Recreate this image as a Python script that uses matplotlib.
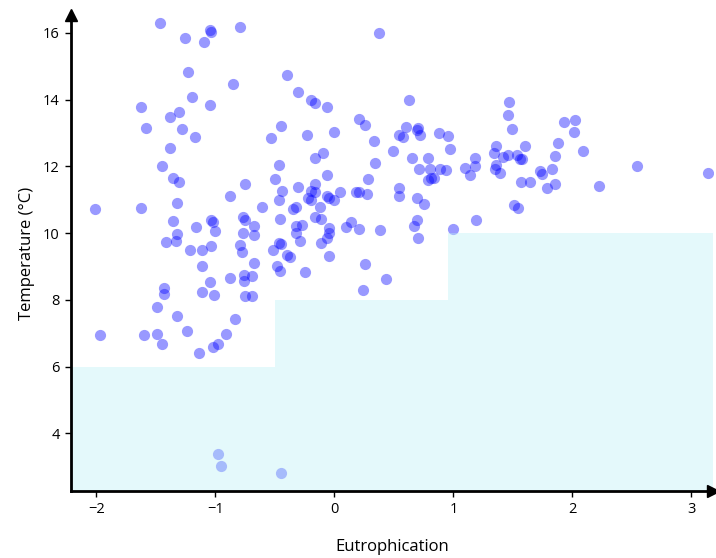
import numpy as np
import matplotlib.pyplot as plt

plt.rcParams['font.family'] = ['Open Sans', 'DejaVu Sans']

# eutrophication (x) and temperature (y)
eutro = [
    -1.47, -1.05, -1.04, -0.79, -1.26, -1.10, -1.23, -0.85, -1.63, -1.20,
    -1.05, -1.31, -1.38, -1.58, -1.28, -1.17, -1.38, -1.45, -1.36, -1.31,
    -0.75, -0.88, -1.32, -2.01, -1.63, -1.36, -1.04, -1.02, -1.16, -1.00,
    -0.77, -0.75, -1.32, -1.33, -1.42, -1.21, -1.11, -1.04, -0.79, -0.78,
    -0.77, -1.11, -1.43, -1.43, -1.05, -0.88, -0.76, -0.76, -1.11, -1.01,
    -0.75, -1.49, -1.32, -0.84, -1.97, -1.60, -1.49, -1.45, -1.24, -0.91,
    -0.98, -1.02, -1.14,
    0.37, -0.40, -0.31, -0.20, -0.16, -0.06, 0.21, 0.26, -0.45, -0.53,
    -0.23, 0.00, 0.33, 0.54, 0.58, 0.49, -0.10, -0.16, 0.34, -0.47,
    -0.06, -0.50, 0.28, -0.44, -0.31, -0.16, -0.20, -0.16, 0.05, 0.18,
    0.21, 0.27, 0.54, 0.54, -0.47, -0.22, -0.20, -0.06, -0.05, 0.00,
    -0.61, -0.35, -0.32, -0.12, -0.68, -0.46, -0.16, -0.11, -0.32, -0.27,
    -0.05, -0.05, 0.14, 0.10, 0.21, 0.38, -0.68, -0.32, -0.29, -0.06,
    -0.11, -0.47, -0.45, -0.52, -0.40, -0.37, -0.05, -0.68, -0.48, -0.46,
    -0.25, 0.26, 0.43, -0.69, -0.69, 0.24,
    0.63, 1.47, 1.46, 1.93, 2.02, 2.01, 1.49, 0.60, 0.69, 0.70,
    0.72, 0.88, 0.95, 0.97, 0.65, 0.79, 0.71, 0.80, 0.89, 0.94,
    0.79, 0.81, 0.84, 1.10, 1.14, 1.18, 1.18, 1.36, 1.34, 1.42,
    1.46, 1.53, 1.58, 1.56, 1.60, 1.36, 1.35, 1.39, 1.57, 1.64,
    1.73, 1.74, 1.83, 1.79, 1.85, 1.85, 1.88, 2.09, 2.22, 2.54,
    3.14, 0.69, 0.75, 0.69, 0.67, 0.70, 1.00, 1.19, 1.51, 1.54,
    -0.98, -0.95, -0.45,
]
temp = [
    16.29, 16.08, 16.03, 16.17, 15.84, 15.72, 14.82, 14.46, 13.78, 14.07,
    13.84, 13.63, 13.48, 13.15, 13.12, 12.88, 12.55, 12.01, 11.65, 11.53,
    11.47, 11.11, 10.90, 10.72, 10.75, 10.36, 10.39, 10.33, 10.18, 10.06,
    10.48, 10.39, 9.97, 9.76, 9.73, 9.49, 9.49, 9.61, 9.64, 9.43,
    10.00, 9.01, 8.36, 8.18, 8.54, 8.66, 8.75, 8.57, 8.24, 8.15,
    8.12, 7.79, 7.52, 7.43, 6.95, 6.95, 6.98, 6.68, 7.07, 6.98,
    6.68, 6.59, 6.41,
    15.99, 14.73, 14.22, 13.99, 13.90, 13.78, 13.42, 13.24, 13.21, 12.85,
    12.94, 13.03, 12.76, 12.94, 12.88, 12.46, 12.40, 12.25, 12.10, 12.04,
    11.74, 11.62, 11.62, 11.26, 11.38, 11.47, 11.26, 11.23, 11.23, 11.23,
    11.23, 11.17, 11.35, 11.11, 10.99, 11.05, 10.99, 11.11, 11.05, 10.99,
    10.78, 10.72, 10.78, 10.78, 10.21, 10.42, 10.48, 10.42, 10.21, 10.24,
    10.15, 10.00, 10.33, 10.18, 10.12, 10.09, 9.94, 10.00, 9.76, 9.85,
    9.70, 9.70, 9.67, 9.49, 9.34, 9.28, 9.31, 9.10, 9.01, 8.87,
    8.84, 9.07, 8.63, 8.72, 8.12, 8.30,
    13.99, 13.93, 13.54, 13.33, 13.39, 13.03, 13.12, 13.18, 13.09, 13.15,
    12.94, 13.00, 12.91, 12.52, 12.25, 12.25, 11.92, 11.92, 11.92, 11.89,
    11.59, 11.65, 11.65, 11.95, 11.74, 12.25, 12.01, 12.61, 12.40, 12.28,
    12.34, 12.34, 12.22, 12.22, 12.61, 12.04, 11.92, 11.80, 11.53, 11.53,
    11.86, 11.77, 11.92, 11.35, 11.47, 12.31, 12.70, 12.46, 11.41, 12.01,
    11.80, 11.05, 10.87, 10.39, 10.21, 9.85, 10.12, 10.39, 10.84, 10.75,
    3.39, 3.03, 2.82,
]

# stepped threshold region
step_edges = [-2.214, -0.5, 0.95, 3.181]
step_levels = [6, 8, 10]

xmin, xmax = -2.214, 3.181
ymin, ymax = 2.278, 16.53

fig = plt.figure(figsize=(7.16, 5.58), dpi=100)
ax = fig.add_axes([0.0992, 0.1201, 0.8966, 0.853])

ax.scatter(eutro, temp, s=65, color='blue', alpha=0.4, linewidths=0, zorder=2)

fx = np.array(step_edges)
fy = np.array(step_levels + [step_levels[-1]])
ax.fill_between(fx, ymin, fy, step='post', color='#bcf0f5', alpha=0.4,
                linewidth=0, zorder=3)

ax.set_xlim(xmin, xmax)
ax.set_ylim(ymin, ymax)
ax.set_xticks([-2, -1, 0, 1, 2, 3])
ax.set_yticks([4, 6, 8, 10, 12, 14, 16])

for side in ['top', 'right']:
    ax.spines[side].set_visible(False)
for side in ['left', 'bottom']:
    ax.spines[side].set_linewidth(2)
    ax.spines[side].set_zorder(4)

ax.tick_params(direction='out', length=4, width=1, labelsize=10.5, pad=4)

# arrow heads on the axes
ax.plot(1, 0, '>', color='black', markersize=9, transform=ax.transAxes,
        clip_on=False, zorder=5)
ax.plot(0, 1, '^', color='black', markersize=9, transform=ax.transAxes,
        clip_on=False, zorder=5)

ax.set_xlabel('Eutrophication', fontsize=12, labelpad=16)
ax.set_ylabel('Temperature (°C)', fontsize=12, labelpad=6)

fig.savefig('out.png', dpi=100)
